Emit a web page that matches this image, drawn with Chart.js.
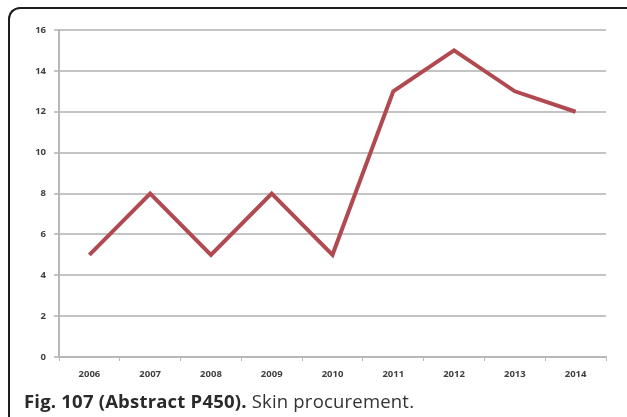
<!DOCTYPE html>
<html>
<head>
<meta charset="utf-8">
<script src="https://cdn.jsdelivr.net/npm/chart.js@4/dist/chart.umd.min.js"></script>
<style>
  html, body { margin: 0; padding: 0; background: #fff; }
  body { width: 627px; height: 417px; position: relative; overflow: hidden; }
  .frame {
    position: absolute; left: 8px; top: 7px; width: 700px; height: 500px;
    border-top: 2px solid #1e1e1e; border-left: 2px solid #1e1e1e;
    border-top-left-radius: 12px;
  }
  .chart-box { position: absolute; left: 0; top: 0; width: 627px; height: 390px; }
  .caption {
    position: absolute; left: 24px; top: 391px;
    font-family: "Open Sans", sans-serif; font-size: 18.5px; line-height: 20px; color: #333;
    letter-spacing: 0.2px; white-space: nowrap;
  }
  .caption b { font-weight: 700; color: #2a2a2a; }
</style>
</head>
<body>
<div class="frame"></div>
<div class="chart-box"><canvas id="c" width="627" height="390"></canvas></div>
<div class="caption"><b>Fig. 107 (Abstract P450).</b> Skin procurement.</div>
<script>
// Yearly skin procurement counts
const years = ["2006", "2007", "2008", "2009", "2010", "2011", "2012", "2013", "2014"];
const procurements = [5, 8, 5, 8, 5, 13, 15, 13, 12];
const yTicks = [0, 2, 4, 6, 8, 10, 12, 14, 16];

const tickFont = { family: "'Open Sans', sans-serif", size: 9.5, weight: "bold" };

new Chart(document.getElementById("c"), {
  type: "line",
  data: {
    labels: years,
    datasets: [{
      data: procurements,
      borderColor: "#b04a50",
      borderWidth: 4,
      pointRadius: 0,
      tension: 0,
      fill: false
    }]
  },
  options: {
    responsive: false,
    animation: false,
    plugins: { legend: { display: false }, tooltip: { enabled: false } },
    layout: { padding: { top: 30, right: 21, left: 0, bottom: 0 } },
    scales: {
      x: {
        offset: true,
        grid: { display: true, drawOnChartArea: false, offset: true, color: "#b8b8b8", lineWidth: 1, tickLength: 4 },
        border: { color: "#b8b8b8", width: 2 },
        ticks: { font: tickFont, color: "#404040", padding: 8, maxRotation: 0 },
        afterFit: s => { s.height = 33; }
      },
      y: {
        min: 0, max: 16,
        afterBuildTicks: s => { s.ticks = yTicks.map(v => ({ value: v })); },
        grid: { color: "#c4c4c4", lineWidth: 2, tickLength: 5 },
        border: { color: "#b8b8b8", width: 2 },
        ticks: { font: tickFont, color: "#404040", padding: 8 },
        afterFit: s => { s.width = 59; }
      }
    }
  }
});
</script>
</body>
</html>
